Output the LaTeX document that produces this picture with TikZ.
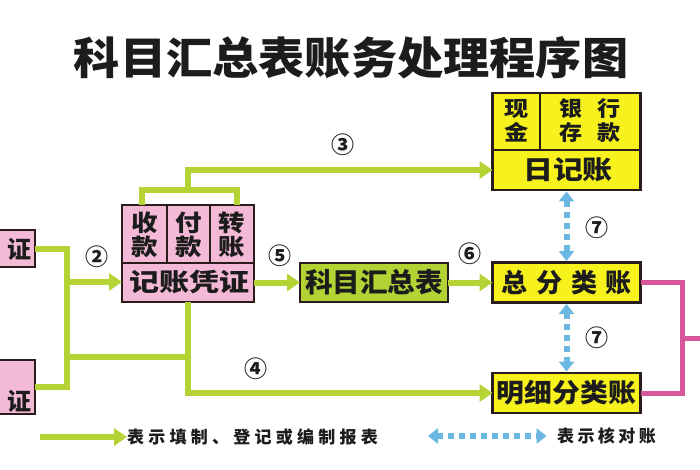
\documentclass[tikz,border=0pt]{standalone}
\usepackage{fontspec}
\setmainfont{Noto Sans CJK SC}
\usetikzlibrary{arrows.meta}
\definecolor{gl}{HTML}{B5D334}
\definecolor{pk}{HTML}{F3B9D6}
\definecolor{yl}{HTML}{F7F21E}
\definecolor{gbox}{HTML}{B3D335}
\definecolor{bl}{HTML}{6AB8E2}
\definecolor{pl}{HTML}{D8579A}
\definecolor{bd}{HTML}{2A1C1C}
\definecolor{tx}{HTML}{1C1C1C}
\newcommand\sx[2]{\scalebox{#1}[1]{#2}}
\newcommand\fsz[2]{\fontsize{#1}{#2}\selectfont}
\begin{document}
\begin{tikzpicture}[x=1pt,y=-1pt,
  box/.style={draw=bd, line width=2.2pt, inner sep=0pt, outer sep=0pt, text=tx},
  txt/.style={inner sep=0pt, text=tx, font=\bfseries, align=center},
  num/.style={inner sep=0pt, text=tx, font=\bfseries\fsz{23}{23}},
  gline/.style={draw=gl, line width=6pt},
  garrow/.style={gline, -{Triangle[length=13pt,width=17pt]}},
  barrow/.style={draw=bl, line width=6pt, dash pattern=on 6pt off 5pt,
     {Triangle[length=10pt,width=15pt]}-{Triangle[length=10pt,width=15pt]}, shorten <=1.5pt, shorten >=1.5pt},
  pline/.style={draw=pl, line width=5pt}]
\useasboundingbox (0,0) rectangle (700,470);
\fill[white] (0,0) rectangle (700,470);

% title
\node[txt] (title) at (351,58) {\fsz{44}{44}\sx{1.05}{科目汇总表账务处理程序图}};

% left boxes (cut off)
\node[box, fill=pk, minimum width=40pt, minimum height=37pt] (lt) at (15,248.5) {};
\node[txt] (ltt) at (20,249) {\fsz{24}{24}证};
\node[box, fill=pk, minimum width=40pt, minimum height=54pt] (lb) at (15,387) {};
\node[txt] (lbt) at (20,401) {\fsz{24}{24}证};

% voucher box
\node[box, fill=pk, minimum width=132pt, minimum height=97pt] (vouch) at (188,253.5) {};
\draw[bd, line width=2.2pt] (122,263) -- (254,263) (167,205) -- (167,263) (210,205) -- (210,263);
\node[txt, font=\bfseries\fsz{23}{24}] (v1) at (144.5,235) {\sx{1.15}{收}\\\sx{1.15}{款}};
\node[txt, font=\bfseries\fsz{23}{24}] (v2) at (188.5,235) {\sx{1.15}{付}\\\sx{1.15}{款}};
\node[txt, font=\bfseries\fsz{23}{24}] (v3) at (232,235) {\sx{1.15}{转}\\\sx{1.15}{账}};
\node[txt] (v4) at (189,282.5) {\fsz{25}{25}\sx{1.2}{记账凭证}};

% summary box
\node[box, fill=gbox, minimum width=148pt, minimum height=39pt] (summ) at (374,282.5) {};
\node[txt] (summt) at (374,282.5) {\fsz{27}{27}\sx{1.02}{科目汇总表}};

% journal box
\node[box, fill=yl, minimum width=148pt, minimum height=97pt] (journal) at (566.5,141.5) {};
\draw[bd, line width=2.2pt] (492.5,150) -- (640.5,150) (540,93) -- (540,150);
\node[txt, font=\bfseries\fsz{21}{24}] (j1) at (517,121) {\sx{1.15}{现}\\\sx{1.15}{金}};
\node[txt, font=\bfseries\fsz{21}{24}] (j2) at (590,121) {\sx{1.1}{银}\hspace{14pt}\sx{1.1}{行}\\\sx{1.1}{存}\hspace{14pt}\sx{1.1}{款}};
\node[txt] (j3) at (568,170) {\fsz{26}{26}\sx{1.15}{日记账}};

% general ledger
\node[box, fill=yl, minimum width=148pt, minimum height=40pt] (gen) at (566.5,282.5) {};
\node[txt] (gent) at (566.5,282.5) {\fsz{26}{26}总\hspace{9pt}分\hspace{9pt}类\hspace{9pt}账};
% detail ledger
\node[box, fill=yl, minimum width=148pt, minimum height=40pt] (detail) at (566.5,393) {};
\node[txt] (detailt) at (566.5,393) {\fsz{26}{26}\sx{1.07}{明细分类账}};

% green connectors
\coordinate (ja) at (67,282);
\coordinate (jb) at (67,357);
\coordinate (jc) at (188,357);
\coordinate (bl1) at (142,190);
\coordinate (br1) at (237,190);
\coordinate (t3) at (188,170);
\draw[gline] (lt.east) -| (ja) |- (lb.east);
\draw[garrow] (ja) -- (vouch.west |- ja);
\draw[gline] (jb) -- (jc);
\draw[garrow] (vouch.south) |- (detail.west);
\draw[gline] (vouch.north -| bl1) |- (br1) -- (vouch.north -| br1);
\draw[garrow] (vouch.north |- bl1) -- (t3) -- (t3 -| journal.west);
\draw[garrow] (vouch.east |- summ.west) -- (summ.west);
\draw[garrow] (summ.east) -- (gen.west);

% blue check arrows
\draw[barrow] (journal.south) -- (gen.north);
\draw[barrow] (gen.south) -- (detail.north);

% pink connectors
\coordinate (pj) at (682,338);
\coordinate (pe) at (703,338);
\draw[pline] (gen.east) -| (pj) |- (detail.east);
\draw[pline] (pj) -- (pe);

% numbers
\node[num] (n2) at (97,257) {②};
\node[num] (n3) at (343,145) {③};
\node[num] (n4) at (256,369) {④};
\node[num] (n5) at (280,256) {⑤};
\node[num] (n6) at (470,254) {⑥};
\node[num] (n7a) at (597,228) {⑦};
\node[num] (n7b) at (597,338) {⑦};

% legend
\coordinate (lg1) at (40,437);
\node[txt, anchor=west] (leg1) at (127,437) {\fsz{17}{17}\addfontfeatures{LetterSpace=25}表示填制、登记或编制报表};
\draw[garrow] (lg1) -- (leg1.west);
\coordinate (lg2) at (428,436);
\node[txt, anchor=west] (leg2) at (557,436) {\fsz{17}{17}\addfontfeatures{LetterSpace=20}表示核对账};
\draw[barrow, shorten <=0pt] (lg2) -- ([xshift=-9pt]leg2.west);
\end{tikzpicture}
\end{document}
